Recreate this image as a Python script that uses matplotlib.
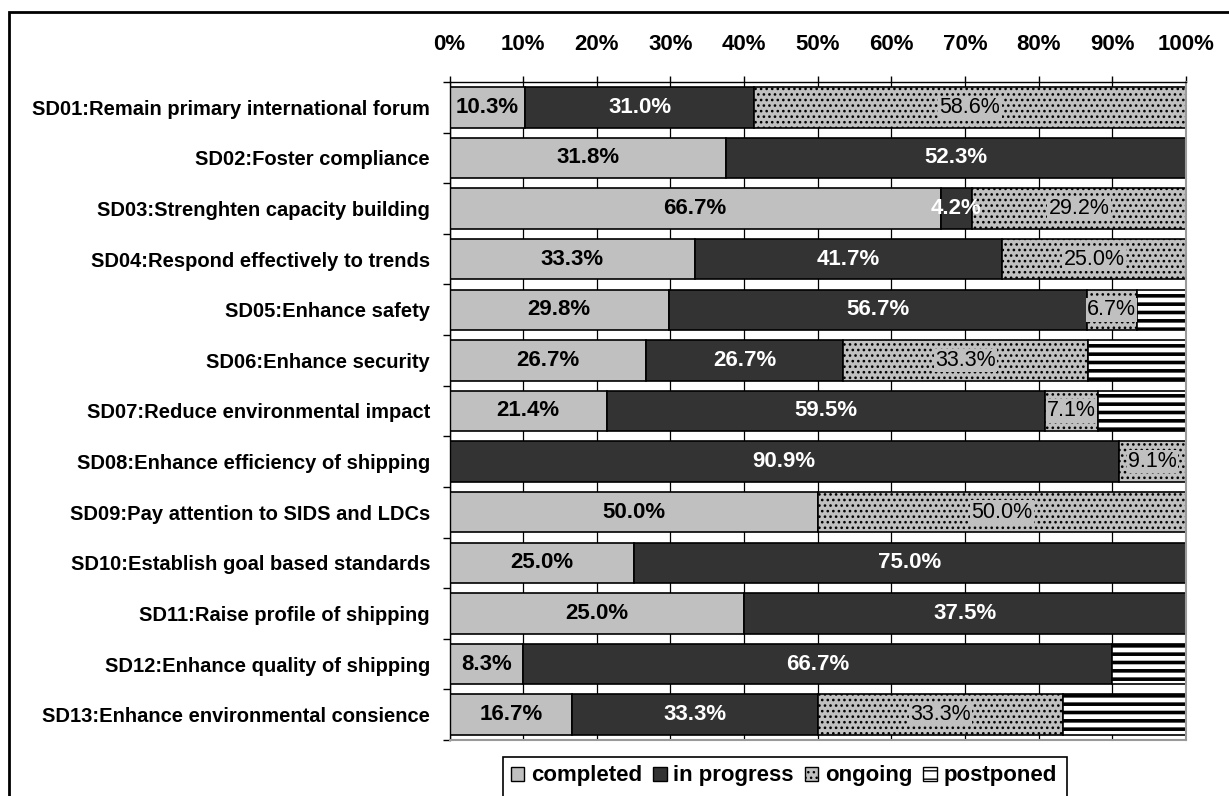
import numpy as np
import matplotlib
matplotlib.use('Agg')
import matplotlib.pyplot as plt
from matplotlib.patches import Rectangle, Patch

plt.rcParams['font.family'] = ['Liberation Sans', 'DejaVu Sans']

# strategic directions (top to bottom)
directions = ['SD01:Remain primary international forum',
              'SD02:Foster compliance',
              'SD03:Strenghten capacity building',
              'SD04:Respond effectively to trends',
              'SD05:Enhance safety',
              'SD06:Enhance security',
              'SD07:Reduce environmental impact',
              'SD08:Enhance efficiency of shipping',
              'SD09:Pay attention to SIDS and LDCs',
              'SD10:Establish goal based standards',
              'SD11:Raise profile of shipping',
              'SD12:Enhance quality of shipping',
              'SD13:Enhance environmental consience']

# segment widths (%) as drawn in the chart
completed   = [10.3, 37.5, 66.7, 33.3, 29.8, 26.7, 21.4, 0.0, 50.0, 25.0, 40.0, 10.0, 16.7]
in_progress = [31.0, 62.5, 4.2, 41.7, 56.7, 26.7, 59.5, 90.9, 0.0, 75.0, 60.0, 80.0, 33.3]
ongoing     = [58.7, 0.0, 29.1, 25.0, 6.8, 33.3, 7.1, 9.1, 50.0, 0.0, 0.0, 0.0, 33.3]
postponed   = [0.0, 0.0, 0.0, 0.0, 6.7, 13.3, 12.0, 0.0, 0.0, 0.0, 0.0, 10.0, 16.7]

# data labels as printed on the bars
lbl_completed   = ['10.3%', '31.8%', '66.7%', '33.3%', '29.8%', '26.7%', '21.4%', '',
                   '50.0%', '25.0%', '25.0%', '8.3%', '16.7%']
lbl_in_progress = ['31.0%', '52.3%', '4.2%', '41.7%', '56.7%', '26.7%', '59.5%', '90.9%',
                   '', '75.0%', '37.5%', '66.7%', '33.3%']
lbl_ongoing     = ['58.6%', '', '29.2%', '25.0%', '6.7%', '33.3%', '7.1%', '9.1%',
                   '50.0%', '', '', '', '33.3%']
lbl_postponed   = [''] * 13


def hatch_lw(artist, lw):
    # hatch linewidth: set on the artist if possible, and also while drawing
    if hasattr(artist, 'set_hatch_linewidth'):
        artist.set_hatch_linewidth(lw)
    orig = artist.draw
    def draw(renderer, *args, **kwargs):
        with plt.rc_context({'hatch.linewidth': lw}):
            return orig(renderer, *args, **kwargs)
    artist.draw = draw


fig = plt.figure(figsize=(12.29, 7.96), dpi=100)
ax = fig.add_axes([449.5/1229, 1-740/796, (1186-449.5)/1229, (740-82)/796])

y = np.arange(len(directions))
left = np.zeros(len(y))

series = [
    ('completed', completed, '#c0c0c0', '', 1.0, lbl_completed, 'black', 'bold', None),
    ('in progress', in_progress, '#333333', '', 1.0, lbl_in_progress, 'white', 'bold', None),
    ('ongoing', ongoing, '#c0c0c0', '...', 1.1, lbl_ongoing, 'black', 'normal', '#c0c0c0'),
    ('postponed', postponed, 'white', '--', 2.6, lbl_postponed, 'black', 'normal', None),
]

handles = []
for name, vals, col, hatch, hlw, lbls, tcol, tw, bg in series:
    vals = np.array(vals)
    with plt.rc_context({'hatch.linewidth': hlw}):
        bars = ax.barh(y, vals, left=left, height=0.8, color=col, edgecolor='black',
                       linewidth=1.2, hatch=hatch, zorder=2)
    with plt.rc_context({'hatch.linewidth': min(hlw, 1.6)}):
        hp = Patch(facecolor=col, edgecolor='black', hatch=hatch, linewidth=1.0, label=name)
    for b in bars:
        hatch_lw(b, hlw)
    handles.append(hp)
    for i, (v, t) in enumerate(zip(vals, lbls)):
        if t:
            kw = {}
            if bg:
                kw['bbox'] = dict(facecolor=bg, edgecolor='none', pad=1.0)
            ax.text(left[i] + v/2, i, t, ha='center', va='center', color=tcol,
                    fontsize=15.5 if tw == 'normal' else 16, fontweight=tw, zorder=4, **kw)
    left = left + vals

ax.set_xlim(0, 100)
ax.set_ylim(12.5, -0.5)
ax.xaxis.tick_top()
ax.set_xticks(np.arange(0, 101, 10))
ax.set_xticklabels([f'{v}%' for v in range(0, 101, 10)], fontsize=16, fontweight='bold')
ax.tick_params(axis='x', which='major', direction='out', length=4.5, width=1, pad=15)
ax.xaxis.grid(True, color='black', linewidth=0.9)
ax.set_axisbelow(True)

ax.set_yticks(y)
ax.set_yticklabels(directions, fontsize=14.5, fontweight='bold')
ax.tick_params(axis='y', which='major', length=0, pad=14)
ax.set_yticks(np.arange(-0.5, 13, 1), minor=True)
ax.tick_params(axis='y', which='minor', direction='out', length=5, width=1)

for s in ['top', 'left']:
    ax.spines[s].set_color('black')
    ax.spines[s].set_linewidth(1.0)
for s in ['right', 'bottom']:
    ax.spines[s].set_color('#9a9a9a')
    ax.spines[s].set_linewidth(1.5)

# outer frame of the chart area (runs off the right/bottom edge)
fig.add_artist(Rectangle((9/1229, -0.1), 1.2, 1.1 - 12/796, transform=fig.transFigure,
                         fill=False, edgecolor='black', linewidth=2))

# legend box (cut at the bottom)
fig.add_artist(Rectangle((503/1229, -0.1), (1067-503)/1229, 0.1 + 1 - 757/796,
                         transform=fig.transFigure, fill=False, edgecolor='black',
                         linewidth=1.2))
fig.legend(handles=handles, loc='center', bbox_to_anchor=(784/1229, 1-776/796),
           ncol=4, frameon=False, handlelength=0.6, handleheight=0.6,
           handletextpad=0.3, columnspacing=0.5,
           prop={'weight': 'bold', 'size': 16})

fig.savefig('out.png', dpi=100)
